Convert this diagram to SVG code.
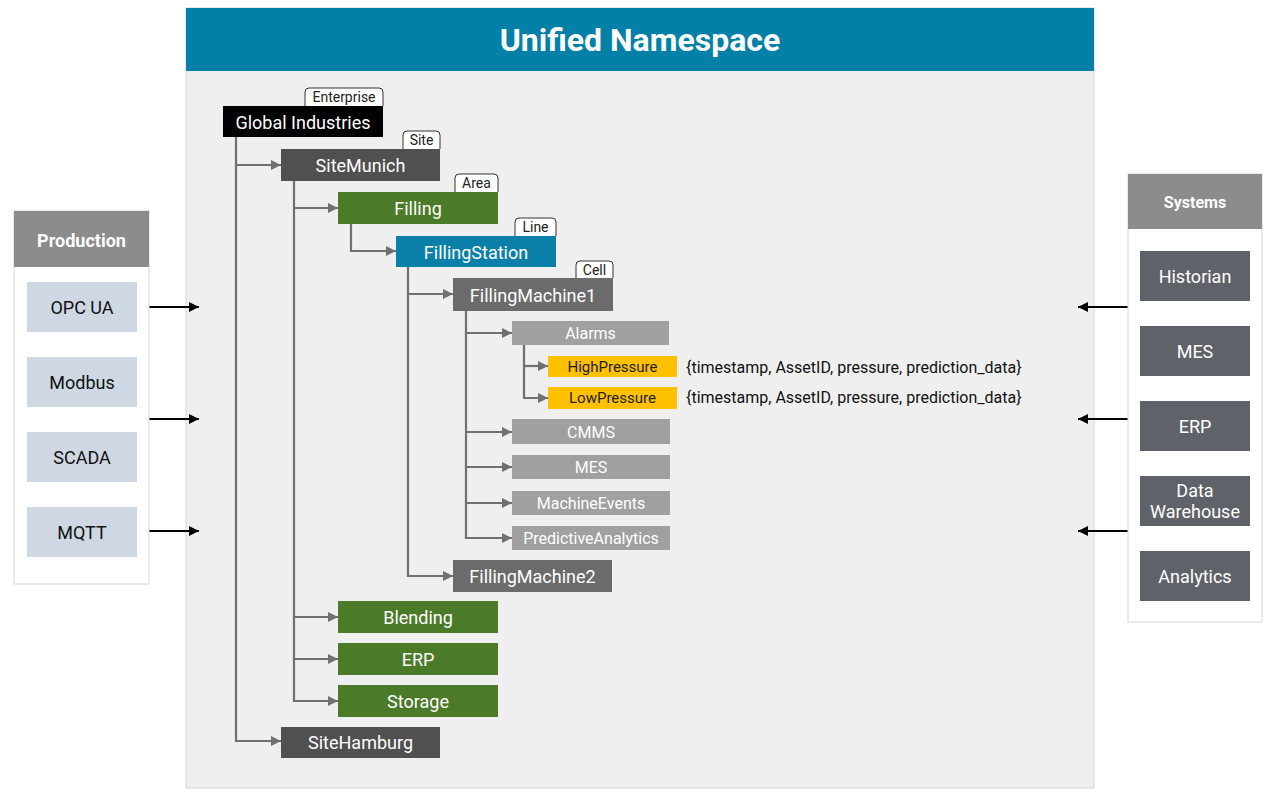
<svg xmlns="http://www.w3.org/2000/svg" width="1280" height="800" viewBox="0 0 1280 800">
<defs>
<style>
text{font-family:Roboto,"Liberation Sans",Arial,sans-serif;text-anchor:middle;dominant-baseline:central}
.w{fill:#fff}
.n{font-size:18px}
.s{font-size:16px}
.y{font-size:15px;fill:#222}
.tag{font-size:14px;fill:#222}
.tagbox{fill:#fff;stroke:#333;stroke-width:1}
.c{fill:none;stroke:#707070;stroke-width:2.2}
.ext{fill:none;stroke:#000;stroke-width:1.8}
</style>
<marker id="ah" viewBox="0 0 10 10" refX="10" refY="5" markerWidth="10" markerHeight="10" markerUnits="userSpaceOnUse" orient="auto"><path d="M0,0 L10,5 L0,10 z" fill="#707070"/></marker>
<marker id="bh" viewBox="0 0 10 10" refX="10" refY="5" markerWidth="10" markerHeight="10" markerUnits="userSpaceOnUse" orient="auto"><path d="M0,0 L10,5 L0,10 z" fill="#000"/></marker>
</defs>
<rect width="1280" height="800" fill="#fff"/>

<g id="panel">
<rect x="186" y="8" width="908" height="780" fill="#efefef" stroke="#d8d8d8"/>
<rect x="186" y="8" width="908" height="63" fill="#0280a8"/>
<text x="640" y="40" class="w" style="font-size:32px;font-weight:bold">Unified Namespace</text>
</g>

<g id="connectors">
<path class="c" d="M236,137 V741 H281" marker-end="url(#ah)"/>
<path class="c" d="M236,165 H281" marker-end="url(#ah)"/>
<path class="c" d="M294,181 V701 H338" marker-end="url(#ah)"/>
<path class="c" d="M294,208 H338" marker-end="url(#ah)"/>
<path class="c" d="M294,617 H338" marker-end="url(#ah)"/>
<path class="c" d="M294,659 H338" marker-end="url(#ah)"/>
<path class="c" d="M351,224 V251 H396" marker-end="url(#ah)"/>
<path class="c" d="M408,267 V576 H453" marker-end="url(#ah)"/>
<path class="c" d="M408,294 H453" marker-end="url(#ah)"/>
<path class="c" d="M466,311 V538 H512" marker-end="url(#ah)"/>
<path class="c" d="M466,333 H512" marker-end="url(#ah)"/>
<path class="c" d="M466,432 H512" marker-end="url(#ah)"/>
<path class="c" d="M466,467 H512" marker-end="url(#ah)"/>
<path class="c" d="M466,503 H512" marker-end="url(#ah)"/>
<path class="c" d="M524,345 V398 H548" marker-end="url(#ah)"/>
<path class="c" d="M524,366 H548" marker-end="url(#ah)"/>
<path class="ext" d="M143,307 H199" marker-end="url(#bh)"/>
<path class="ext" d="M143,419 H199" marker-end="url(#bh)"/>
<path class="ext" d="M143,531 H199" marker-end="url(#bh)"/>
<path class="ext" d="M1135,307 H1078" marker-end="url(#bh)"/>
<path class="ext" d="M1135,419 H1078" marker-end="url(#bh)"/>
<path class="ext" d="M1135,531 H1078" marker-end="url(#bh)"/>
</g>

<g id="n-global">
<path class="tagbox" d="M305,106 V92 Q305,88 309,88 H379 Q383,88 383,92 V106"/>
<text x="344" y="97" class="tag">Enterprise</text>
<rect x="223" y="106" width="160" height="31" fill="#000"/>
<text x="303" y="122" class="n w">Global Industries</text>
</g>
<g id="n-sitemunich">
<path class="tagbox" d="M403,149 V135 Q403,131 407,131 H436 Q440,131 440,135 V149"/>
<text x="421.5" y="140" class="tag">Site</text>
<rect x="281" y="149" width="159" height="32" fill="#505050"/>
<text x="360.5" y="165" class="n w">SiteMunich</text>
</g>
<g id="n-filling">
<path class="tagbox" d="M455,192 V178 Q455,174 459,174 H494 Q498,174 498,178 V192"/>
<text x="476.5" y="183" class="tag">Area</text>
<rect x="338" y="192" width="160" height="32" fill="#4b7b28"/>
<text x="418" y="208" class="n w">Filling</text>
</g>
<g id="n-fillingstation">
<path class="tagbox" d="M515,236 V222 Q515,218 519,218 H552 Q556,218 556,222 V236"/>
<text x="535.5" y="227" class="tag">Line</text>
<rect x="396" y="236" width="160" height="31" fill="#0a80a8"/>
<text x="476" y="252" class="n w">FillingStation</text>
</g>
<g id="n-fm1">
<path class="tagbox" d="M576,278 V265 Q576,261 580,261 H609 Q613,261 613,265 V278"/>
<text x="594.5" y="270" class="tag">Cell</text>
<rect x="453" y="278" width="160" height="33" fill="#6b6b6b"/>
<text x="533" y="295" class="n w">FillingMachine1</text>
</g>
<g id="n-alarms"><rect x="512" y="321" width="157" height="24" fill="#a0a0a0"/><text x="590.5" y="333" class="s w">Alarms</text></g>
<g id="n-high"><rect x="548" y="356" width="129" height="21" fill="#ffc000"/><text x="612.5" y="367" class="y">HighPressure</text>
<text x="686" y="367" class="s" fill="#111" style="text-anchor:start">{timestamp, AssetID, pressure, prediction_data}</text></g>
<g id="n-low"><rect x="548" y="387" width="129" height="22" fill="#ffc000"/><text x="612.5" y="398" class="y">LowPressure</text>
<text x="686" y="397" class="s" fill="#111" style="text-anchor:start">{timestamp, AssetID, pressure, prediction_data}</text></g>
<g id="n-cmms"><rect x="512" y="419" width="158" height="25" fill="#a0a0a0"/><text x="591" y="432" class="s w">CMMS</text></g>
<g id="n-mes"><rect x="512" y="455" width="158" height="24" fill="#a0a0a0"/><text x="591" y="467" class="s w">MES</text></g>
<g id="n-events"><rect x="512" y="491" width="158" height="24" fill="#a0a0a0"/><text x="591" y="503" class="s w">MachineEvents</text></g>
<g id="n-predictive"><rect x="512" y="526" width="158" height="24" fill="#a0a0a0"/><text x="591" y="538" class="s w">PredictiveAnalytics</text></g>
<g id="n-fm2"><rect x="453" y="560" width="159" height="32" fill="#6b6b6b"/><text x="532.5" y="576" class="n w">FillingMachine2</text></g>
<g id="n-blending"><rect x="338" y="601" width="160" height="32" fill="#4b7b28"/><text x="418" y="617" class="n w">Blending</text></g>
<g id="n-erp"><rect x="338" y="643" width="160" height="32" fill="#4b7b28"/><text x="418" y="659" class="n w">ERP</text></g>
<g id="n-storage"><rect x="338" y="685" width="160" height="32" fill="#4b7b28"/><text x="418" y="701" class="n w">Storage</text></g>
<g id="n-sitehamburg"><rect x="281" y="727" width="159" height="31" fill="#505050"/><text x="360.5" y="742" class="n w">SiteHamburg</text></g>

<g id="production">
<rect x="14" y="211" width="135" height="373" fill="#fff" stroke="#d8d8d8"/>
<rect x="14" y="211" width="135" height="56" fill="#8c8c8c"/>
<text x="81.5" y="240" class="w" style="font-size:18px;font-weight:bold">Production</text>
<rect x="27" y="282" width="110" height="50" fill="#cfd8e2"/><text x="82" y="307" class="n" fill="#111">OPC UA</text>
<rect x="27" y="357" width="110" height="50" fill="#cfd8e2"/><text x="82" y="382" class="n" fill="#111">Modbus</text>
<rect x="27" y="432" width="110" height="50" fill="#cfd8e2"/><text x="82" y="457" class="n" fill="#111">SCADA</text>
<rect x="27" y="507" width="110" height="50" fill="#cfd8e2"/><text x="82" y="532" class="n" fill="#111">MQTT</text>
</g>

<g id="systems">
<rect x="1128" y="174" width="134" height="448" fill="#fff" stroke="#d8d8d8"/>
<rect x="1128" y="174" width="134" height="55" fill="#8c8c8c"/>
<text x="1195" y="202" class="w" style="font-size:16px;font-weight:bold">Systems</text>
<rect x="1140" y="251" width="110" height="50" fill="#5f6269"/><text x="1195" y="276" class="n w">Historian</text>
<rect x="1140" y="326" width="110" height="50" fill="#5f6269"/><text x="1195" y="351" class="n w">MES</text>
<rect x="1140" y="401" width="110" height="50" fill="#5f6269"/><text x="1195" y="426" class="n w">ERP</text>
<rect x="1140" y="476" width="110" height="50" fill="#5f6269"/><text x="1195" y="490" class="n w">Data</text><text x="1195" y="511" class="n w">Warehouse</text>
<rect x="1140" y="551" width="110" height="50" fill="#5f6269"/><text x="1195" y="576" class="n w">Analytics</text>
</g>
</svg>
